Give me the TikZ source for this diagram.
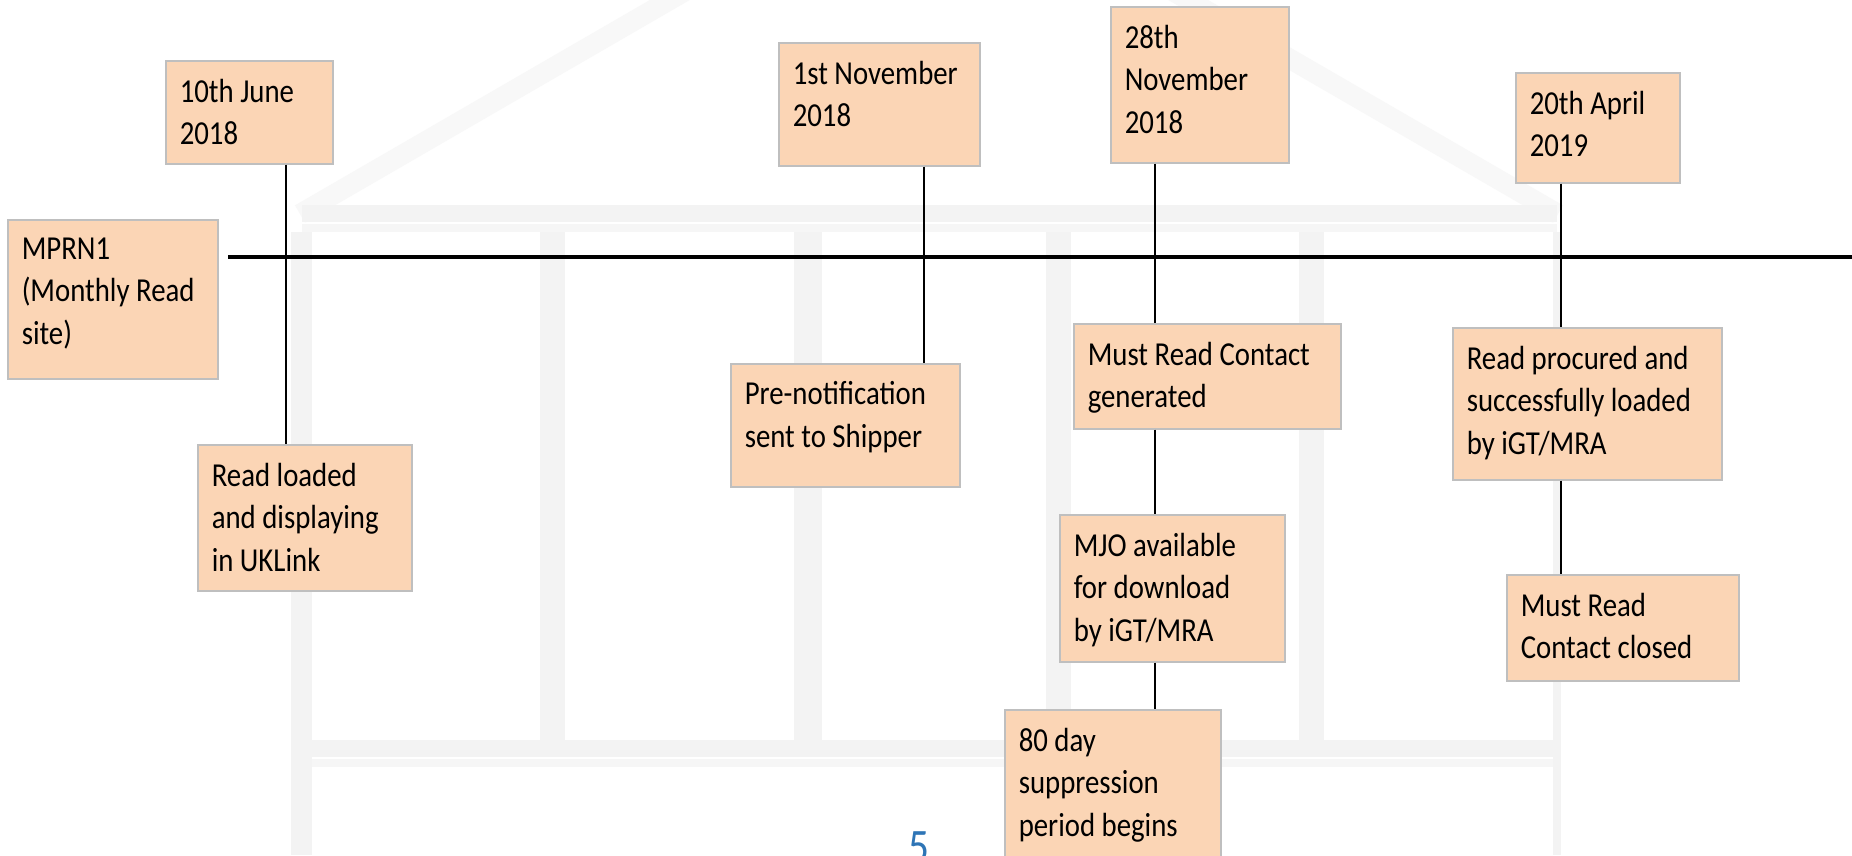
\documentclass[tikz,border=0pt]{standalone}
\usepackage{fontspec}
\newfontfamily\evfont{Carlito}[FakeStretch=0.86]
\usepackage{tikz}
\usetikzlibrary{calc}
\definecolor{boxfill}{HTML}{FBD5B5}
\definecolor{boxline}{HTML}{BFBFBF}
\definecolor{pagenum}{HTML}{2E75B6}
\definecolor{house}{HTML}{F3F3F3}
\newcommand{\evtext}[3]{\parbox[t][#2pt][t]{#1pt}{\raggedright\leftskip=14pt\vspace*{18pt}#3}}

\begin{document}
\begin{tikzpicture}[x=1pt,y=-1pt,
  evbox/.style={draw=boxline, fill=boxfill, line width=1.5pt, inner sep=0pt, anchor=north west,
    font={\evfont\fontsize{33.5}{42.5}\selectfont}},
  link/.style={draw=black, line width=1.6pt},
  axis/.style={draw=black, line width=4.5pt}]
\useasboundingbox (0,0) rectangle (1852,855);
\clip (0,0) rectangle (1852,855);
\fill[white] (0,0) rectangle (1852,855);

\draw[house!60, line width=20pt] (300,214) -- (929,-150) -- (1558,214);
\fill[house] (302,205) rectangle (1557,222);
\fill[house!75] (302,224) rectangle (1557,232);
\foreach \xa/\xb in {291/312, 540/565, 794/822, 1046/1071, 1299/1324}
  \fill[house] (\xa,232) rectangle (\xb,740);
\fill[house] (291,740) rectangle (312,855);
\fill[house] (1553,232) rectangle (1561,855);
\fill[house] (312,740) rectangle (1553,757);
\fill[house!75] (312,759) rectangle (1553,767);

\node[evbox] (june) at (165,60) {\evtext{167}{103}{10th June\\2018}};
\node[evbox] (mprn) at (7,219) {\evtext{210}{159}{MPRN1\\(Monthly Read\\site)}};
\node[evbox] (readld) at (197,444) {\evtext{214}{146}{Read loaded\\and displaying\\in UKLink}};
\node[evbox] (nov1) at (778,42) {\evtext{201}{123}{1st November\\2018}};
\node[evbox] (prenot) at (730,363) {\evtext{229}{123}{Pre-notification\\sent to Shipper}};
\node[evbox] (nov28) at (1110,6) {\evtext{178}{156}{28th\\November\\2018}};
\node[evbox] (mrcgen) at (1073,323) {\evtext{267}{105}{Must Read Contact\\generated}};
\node[evbox] (mjo) at (1059,514) {\evtext{225}{147}{MJO available\\for download\\by iGT/MRA}};
\node[evbox] (supp) at (1004,709) {\evtext{216}{160}{80 day\\suppression\\period begins}};
\node[evbox] (apr) at (1515,72) {\evtext{164}{110}{20th April\\2019}};
\node[evbox] (procd) at (1452,327) {\evtext{269}{152}{Read procured and\\successfully loaded\\by iGT/MRA}};
\node[evbox] (mrclosed) at (1506,574) {\evtext{232}{106}{Must Read\\Contact closed}};

\coordinate (tl0) at (228,257);
\coordinate (tl1) at (1852,257);
\coordinate (tj) at (286,257);
\coordinate (tn) at (924,257);
\coordinate (tm) at (1155,257);
\coordinate (ta) at (1561,257);
\draw[axis] (tl0) -- (tl1);

\draw[link] (tj |- june.south) -- (tj |- readld.north);
\draw[link] (tn |- nov1.south) -- (tn |- prenot.north);
\draw[link] (tm |- nov28.south) -- (tm |- mrcgen.north);
\draw[link] (tm |- mrcgen.south) -- (tm |- mjo.north);
\draw[link] (tm |- mjo.south) -- (tm |- supp.north);
\draw[link] (ta |- apr.south) -- (ta |- procd.north);
\draw[link] (ta |- procd.south) -- (ta |- mrclosed.north);

\node[anchor=base, text=pagenum, font={\evfont\fontsize{48}{56}\selectfont}] (pgnum) at (919,862) {5};
\end{tikzpicture}
\end{document}
